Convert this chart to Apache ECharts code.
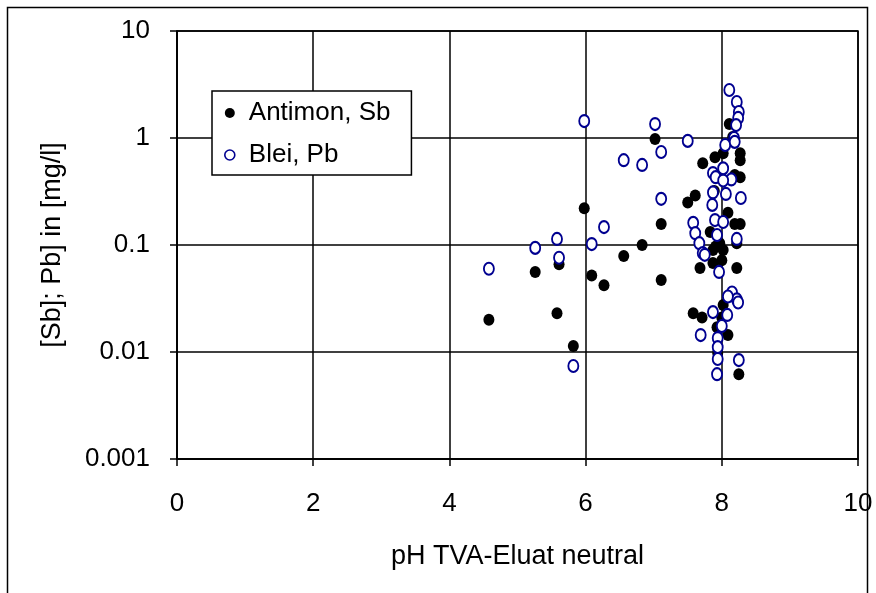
<!DOCTYPE html>
<html>
<head>
<meta charset="utf-8">
<script src="https://cdn.jsdelivr.net/npm/echarts@6/dist/echarts.min.js"></script>
<style>
  html, body { margin: 0; padding: 0; background: #fff; }
  #chart { width: 876px; height: 593px; }
</style>
</head>
<body>
<div id="chart"></div>
<script>
// Antimony (Sb): pH of the neutral TVA eluate and concentration in mg/l
const sbPH = [
  7.02, 5.98, 7.11, 6.83, 6.56, 5.26, 5.61, 6.09, 6.27, 7.11, 4.58, 5.58, 5.82,
  8.11, 8.16, 7.72, 7.90, 8.02, 8.27, 8.27, 8.27, 8.19, 7.61, 7.50, 7.89,
  8.09, 8.19, 8.27, 7.83, 7.97, 8.22, 7.87, 8.02, 7.91, 7.68, 7.87, 8.00,
  8.22, 8.02, 7.58, 7.71, 8.00, 7.93, 8.09, 7.94, 8.25
];
const sbConc = [
  0.98, 0.22, 0.157, 0.10, 0.079, 0.056, 0.066, 0.052, 0.042, 0.047, 0.020, 0.023, 0.0114,
  1.35, 1.02, 0.58, 0.66, 0.72, 0.72, 0.62, 0.43, 0.45, 0.29, 0.25, 0.32,
  0.20, 0.157, 0.157, 0.132, 0.104, 0.104, 0.090, 0.090, 0.097, 0.061, 0.068, 0.072,
  0.061, 0.0275, 0.023, 0.021, 0.021, 0.017, 0.0144, 0.0098, 0.0062
];

// Lead (Pb): pH of the neutral TVA eluate and concentration in mg/l
const pbPH = [
  5.98, 7.02, 7.11, 6.56, 6.83, 7.11, 6.27, 5.58, 5.26, 6.09, 5.61, 4.58, 5.82,
  8.11, 8.22, 8.25, 8.24, 8.21, 8.18, 7.50, 8.05, 8.19, 7.87, 8.02, 7.91,
  8.14, 8.02, 7.87, 8.06, 8.28, 7.86, 7.58, 7.90, 8.02, 7.61, 7.93, 7.67,
  8.22, 7.72, 7.75, 7.96, 8.15, 8.22, 8.24, 8.09, 7.87, 8.08, 8.00, 7.69,
  7.94, 7.94, 7.94, 8.25, 7.93
];
const pbConc = [
  1.44, 1.35, 0.74, 0.62, 0.56, 0.27, 0.147, 0.114, 0.094, 0.102, 0.076, 0.060, 0.0074,
  2.81, 2.17, 1.75, 1.54, 1.32, 1.0, 0.94, 0.86, 0.92, 0.47, 0.52, 0.43,
  0.41, 0.40, 0.31, 0.30, 0.275, 0.237, 0.161, 0.171, 0.164, 0.129, 0.124, 0.104,
  0.114, 0.084, 0.081, 0.056, 0.036, 0.031, 0.029, 0.033, 0.0236, 0.0222, 0.0175, 0.0144,
  0.0135, 0.0111, 0.0086, 0.0084, 0.0062
];

const seriesNames = ['Antimon, Sb', 'Blei, Pb'];
const xTicks = ['0', '2', '4', '6', '8', '10'];
const yTicks = ['0.001', '0.01', '0.1', '1', '10'];
const xTitle = 'pH TVA-Eluat neutral';
const yTitle = '[Sb]; Pb] in [mg/l]';

const FONT = '"Liberation Sans", Arial, sans-serif';
const BLUE = '#000090';

const pairs = (xs, ys) => xs.map((x, i) => [x, ys[i]]);

const chart = echarts.init(document.getElementById('chart'), null, { renderer: 'canvas' });

chart.setOption({
  backgroundColor: '#fff',
  animation: false,
  textStyle: { fontFamily: FONT, color: '#000' },
  graphic: [{
    type: 'rect',
    shape: { x: 7.5, y: 7.5, width: 860, height: 700 },
    style: { fill: 'none', stroke: '#000', lineWidth: 1.5 },
    silent: true,
    z: 0
  }],
  grid: {
    left: 177, top: 31, width: 681, height: 428,
    show: true, borderColor: '#000', borderWidth: 1.5,
    backgroundColor: 'transparent'
  },
  legend: {
    orient: 'vertical',
    left: 212, top: 91,
    padding: [7, 21, 5, 12],
    itemGap: 12,
    itemWidth: 10, itemHeight: 11,
    backgroundColor: '#fff',
    borderColor: '#000', borderWidth: 1.5,
    textStyle: { fontFamily: FONT, fontSize: 26, color: '#000', lineHeight: 30, padding: [0, 0, 0, 9] },
    data: [
      { name: seriesNames[0], icon: 'circle', itemStyle: { color: '#000' } },
      { name: seriesNames[1], icon: 'circle', itemStyle: { color: '#fff', borderColor: BLUE, borderWidth: 1.6 } }
    ],
    z: 10
  },
  xAxis: {
    type: 'value',
    min: 0, max: 10, interval: 2,
    name: xTitle,
    nameLocation: 'middle',
    nameGap: 84,
    nameTextStyle: { fontFamily: FONT, fontSize: 27, color: '#000' },
    axisLine: { show: true, onZero: false, lineStyle: { color: '#000', width: 1.5 } },
    axisTick: { show: true, inside: false, length: 7, lineStyle: { color: '#000', width: 1.5 } },
    axisLabel: {
      margin: 32, fontFamily: FONT, fontSize: 26, color: '#000',
      formatter: (v, i) => xTicks[i]
    },
    splitLine: { show: true, lineStyle: { color: '#000', width: 1.5 } }
  },
  yAxis: {
    type: 'log',
    logBase: 10,
    min: 0.001, max: 10,
    name: yTitle,
    nameLocation: 'middle',
    nameGap: 111,
    nameRotate: 90,
    nameTextStyle: { fontFamily: FONT, fontSize: 27, color: '#000' },
    axisLine: { show: true, onZero: false, lineStyle: { color: '#000', width: 1.5 } },
    axisTick: { show: true, inside: false, length: 7, lineStyle: { color: '#000', width: 1.5 } },
    axisLabel: {
      margin: 27, fontFamily: FONT, fontSize: 26, color: '#000',
      formatter: (v, i) => yTicks[i]
    },
    splitLine: { show: true, lineStyle: { color: '#000', width: 1.5 } }
  },
  series: [
    {
      name: seriesNames[0],
      type: 'scatter',
      data: pairs(sbPH, sbConc),
      symbol: 'circle',
      symbolSize: [11, 12],
      itemStyle: { color: '#000', opacity: 1 },
      z: 3
    },
    {
      name: seriesNames[1],
      type: 'scatter',
      data: pairs(pbPH, pbConc),
      symbol: 'circle',
      symbolSize: [10, 12],
      itemStyle: { color: '#fff', borderColor: BLUE, borderWidth: 2, opacity: 1 },
      z: 4
    }
  ]
});
</script>
</body>
</html>
